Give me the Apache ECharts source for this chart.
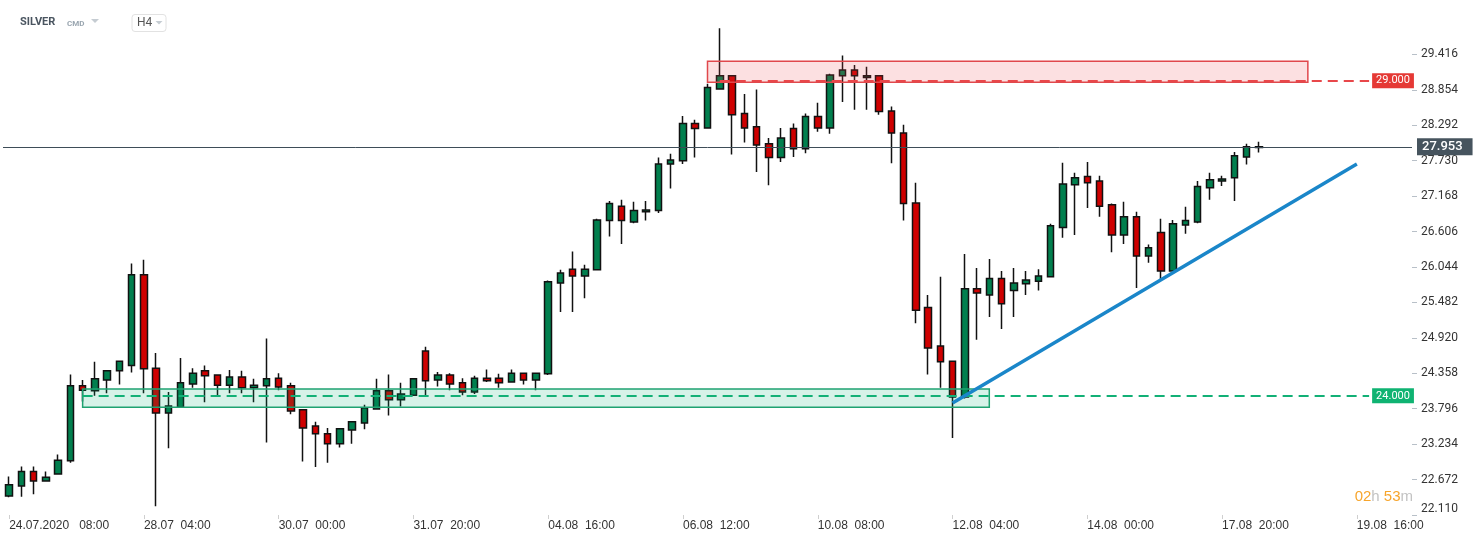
<!DOCTYPE html>
<html><head><meta charset="utf-8">
<script src="https://cdn.jsdelivr.net/npm/echarts@6/dist/echarts.min.js"></script>
<style>html,body{margin:0;padding:0;background:#fff}#c{width:1482px;height:542px}</style>
</head><body><div id="c"></div>
<script>
// ---- data ----
const opens  = [22.41,22.57,22.80,22.65,22.76,22.97,24.16,24.08,24.25,24.40,24.48,25.92,24.44,23.73,23.82,24.19,24.40,24.33,24.17,24.30,
                24.13,24.16,24.28,24.16,23.78,23.52,23.40,23.24,23.46,23.57,23.79,24.08,23.94,24.01,24.71,24.25,24.33,24.21,24.06,24.28,
                24.28,24.22,24.36,24.25,24.35,25.79,26.01,25.90,26.00,26.78,27.01,26.76,26.92,26.94,27.68,27.73,28.32,28.25,28.87,29.08,
                28.48,28.27,28.00,27.78,28.24,27.92,28.43,28.25,29.08,29.17,29.05,29.08,28.52,28.17,27.06,25.40,24.79,24.55,23.98,25.70,
                25.60,25.86,25.67,25.78,25.82,25.89,26.67,27.35,27.48,27.41,27.03,26.55,26.84,26.22,26.59,25.98,26.71,26.76,27.30,27.41,
                27.46,27.79,27.94];
const closes = [22.59,22.80,22.65,22.71,22.98,24.16,24.09,24.27,24.40,24.55,25.92,24.43,23.73,23.84,24.21,24.36,24.32,24.17,24.30,24.13,
                24.17,24.27,24.14,23.76,23.49,23.40,23.24,23.48,23.59,23.81,24.08,23.94,24.03,24.27,24.24,24.33,24.19,24.06,24.28,24.24,
                24.21,24.36,24.25,24.36,25.81,25.95,25.90,26.01,26.79,27.05,26.78,26.94,26.95,27.68,27.74,28.32,28.24,28.89,29.08,28.46,
                28.25,27.98,27.78,28.09,27.92,28.43,28.25,29.09,29.17,29.08,29.08,28.51,28.17,27.05,25.36,24.76,24.54,23.98,25.70,25.63,
                25.86,25.46,25.79,25.84,25.90,26.70,27.36,27.46,27.38,27.01,26.55,26.84,26.22,26.35,25.98,26.73,26.78,27.32,27.43,27.44,
                27.81,27.95,27.953];
const lows   = [22.39,22.40,22.44,22.64,22.75,22.94,23.91,24.00,24.04,24.18,24.37,24.04,22.25,23.17,23.82,24.13,23.90,23.99,24.04,24.04,
                23.90,23.26,24.09,23.71,22.96,22.87,22.94,23.18,23.24,23.47,23.79,23.69,23.83,24.01,23.99,24.15,24.09,24.01,24.03,24.22,
                24.13,24.21,24.18,24.09,24.33,25.33,25.33,25.55,25.99,26.53,26.41,26.74,26.78,26.90,27.29,27.68,27.78,28.24,28.86,27.83,
                28.02,27.55,27.34,27.71,27.79,27.85,28.19,28.16,28.66,28.54,28.54,28.46,27.69,26.78,25.15,24.34,24.13,23.33,23.96,24.89,
                25.25,25.06,25.25,25.60,25.67,25.88,26.51,26.55,26.98,26.84,26.28,26.41,25.71,26.11,25.84,25.97,26.57,26.74,27.11,27.33,
                27.09,27.67,27.86];
const highs  = [22.72,22.88,22.88,22.80,23.07,24.34,24.25,24.54,24.40,24.56,26.10,26.16,24.68,24.06,24.60,24.44,24.48,24.33,24.41,24.40,
                24.27,24.91,24.36,24.21,23.79,23.59,23.49,23.48,23.59,23.86,24.27,24.34,24.21,24.28,24.78,24.38,24.36,24.28,24.32,24.42,
                24.35,24.42,24.37,24.37,25.83,26.00,26.29,26.08,26.81,27.09,27.11,27.08,27.09,27.78,27.84,28.44,28.38,28.95,29.83,29.08,
                28.79,28.86,28.09,28.25,28.32,28.48,28.65,29.11,29.40,29.25,29.22,29.09,28.59,28.30,27.38,25.60,25.89,24.56,26.25,26.03,
                26.17,25.98,26.03,25.98,26.01,26.73,27.70,27.54,27.71,27.49,27.05,27.08,26.92,26.40,26.81,26.79,27.00,27.41,27.54,27.49,
                27.87,28.00,28.03];
const yTicks = [22.110,22.672,23.234,23.796,24.358,24.920,25.482,26.044,26.606,27.168,27.730,28.292,28.854,29.416];
const lastPrice = 27.953;
const resistance = 29.000, support = 24.000;
const resistanceZone = [28.975, 29.308], supportZone = [23.821, 24.107];
const trendStart = [77, 23.885], trendEnd = [110, 27.680];

// 4h trading calendar (weekends skipped)
function buildCategories(n) {
  const out = [];
  let t = Date.UTC(2020, 6, 24, 8);
  const p = v => String(v).padStart(2, '0');
  while (out.length < n) {
    const d = new Date(t);
    const dow = d.getUTCDay();
    if (dow !== 0 && dow !== 6) {
      const base = p(d.getUTCDate()) + '.' + p(d.getUTCMonth() + 1);
      out.push(out.length === 0 ? base + '.' + d.getUTCFullYear() + '   ' + p(d.getUTCHours()) + ':00'
                                : base + '  ' + p(d.getUTCHours()) + ':00');
    }
    t += 4 * 3600e3;
  }
  return out;
}
const categories = buildCategories(115);

const candles = opens.map((o, i) => [o, closes[i], lows[i], highs[i]]);

const chart = echarts.init(document.getElementById('c'));
const sansArial = "'Liberation Sans', Arial, sans-serif";
chart.setOption({
  animation: false,
  backgroundColor: '#fff',
  grid: { left: 3, right: 70, top: 0, bottom: 27 },
  xAxis: {
    type: 'category', data: categories, boundaryGap: true,
    axisLine: { show: false },
    axisTick: { show: true, interval: 10, alignWithLabel: true, length: 4, lineStyle: { color: '#cfcfcf' } },
    axisLabel: { interval: 10, align: 'left', color: '#333', fontSize: 12, fontFamily: sansArial, margin: 5 },
    splitLine: { show: false }
  },
  yAxis: {
    type: 'value', position: 'right', min: 22.110, max: 30.280, scale: true,
    axisLine: { show: false },
    splitLine: { show: false },
    axisTick: { show: true, customValues: yTicks, length: 5, lineStyle: { color: '#b8c0c8' } },
    axisLabel: { customValues: yTicks, formatter: v => v.toFixed(3), color: '#333', fontSize: 12,
                 fontFamily: 'Roboto, sans-serif', margin: 9, verticalAlignMinLabel: 'bottom' }
  },
  series: [{
    type: 'candlestick',
    data: candles,
    barWidth: 7,
    itemStyle: { color: '#017f4e', color0: '#cf0000', borderColor: '#111', borderColor0: '#111', borderWidth: 1.5 },
    markArea: {
      silent: true, z: 3,
      data: [
        [{ coord: [57, resistanceZone[1]], itemStyle: { color: 'rgba(240,70,80,0.17)', borderColor: '#e0484c', borderWidth: 1.5 } },
         { coord: [106, resistanceZone[0]] }],
        [{ coord: [6, supportZone[1]], itemStyle: { color: 'rgba(0,175,115,0.16)', borderColor: '#1fa271', borderWidth: 1.5 } },
         { coord: [80, supportZone[0]] }]
      ]
    },
    markLine: {
      silent: true, z: 5,
      symbol: ['none', 'triangle'], symbolSize: [0, [17, 7]], symbolRotate: [0, 90],
      itemStyle: { color: '#46545e' },
      data: [
        [{ coord: [58, resistance], symbol: 'none', lineStyle: { color: '#e8474a', width: 2, type: [10, 6] },
           label: { show: true, position: 'end', formatter: '29.000', color: '#fff', backgroundColor: '#e53935',
                    fontSize: 11, lineHeight: 11, fontFamily: 'Roboto, sans-serif', padding: [2, 4], distance: 3 } },
         { coord: [111, resistance], symbol: 'none' }],
        [{ coord: [6, support], symbol: 'none', lineStyle: { color: '#12b076', width: 2, type: [10, 6] },
           label: { show: true, position: 'end', formatter: '24.000', color: '#fff', backgroundColor: '#0fb372',
                    fontSize: 11, lineHeight: 11, fontFamily: 'Roboto, sans-serif', padding: [2, 4], distance: 3 } },
         { coord: [111, support], symbol: 'none' }],
        [{ coord: trendStart, symbol: 'none', lineStyle: { color: '#1a86c9', width: 3.5, type: 'solid' }, label: { show: false } },
         { coord: trendEnd, symbol: 'none' }],
        { yAxis: lastPrice,
          lineStyle: { color: '#3e4d58', width: 1, type: 'solid' },
          label: { show: true, position: 'end', formatter: '27.953', color: '#fff', backgroundColor: '#46545e',
                   fontSize: 13, lineHeight: 13, fontWeight: 500, fontFamily: 'Roboto, sans-serif', padding: [2, 10, 2, 5], distance: 5 } }
      ]
    }
  }],
  graphic: [
    { type: 'text', left: 20, top: 17, style: { text: 'SILVER', fontSize: 11, fontWeight: 'bold', fill: '#4a5560', fontFamily: 'Roboto, sans-serif' } },
    { type: 'text', left: 67, top: 20, style: { text: 'CMD', fontSize: 8, fontWeight: 'bold', fill: '#9aa6b0', fontFamily: 'Roboto, sans-serif' } },
    { type: 'polygon', shape: { points: [[91, 19], [99, 19], [95, 23]] }, style: { fill: '#c5ccd2' } },
    { type: 'rect', shape: { x: 132, y: 14.5, width: 34, height: 17, r: 3 }, style: { fill: '#fff', stroke: '#e2e2e2', lineWidth: 1 } },
    { type: 'text', left: 137, top: 17, style: { text: 'H4', fontSize: 12, fill: '#555', fontFamily: 'Roboto, sans-serif' } },
    { type: 'polygon', shape: { points: [[155.5, 21], [162.5, 21], [159, 24.5]] }, style: { fill: '#c5ccd2' } },
    { type: 'text', right: 69, top: 489, style: {
        text: '{o|02}{g|h }{o|53}{g|m}', fontFamily: 'Roboto, sans-serif',
        rich: { o: { fontSize: 15, fill: '#f7a52c' }, g: { fontSize: 15, fill: '#c3c3c3' } } } }
  ]
});
</script>
</body></html>
